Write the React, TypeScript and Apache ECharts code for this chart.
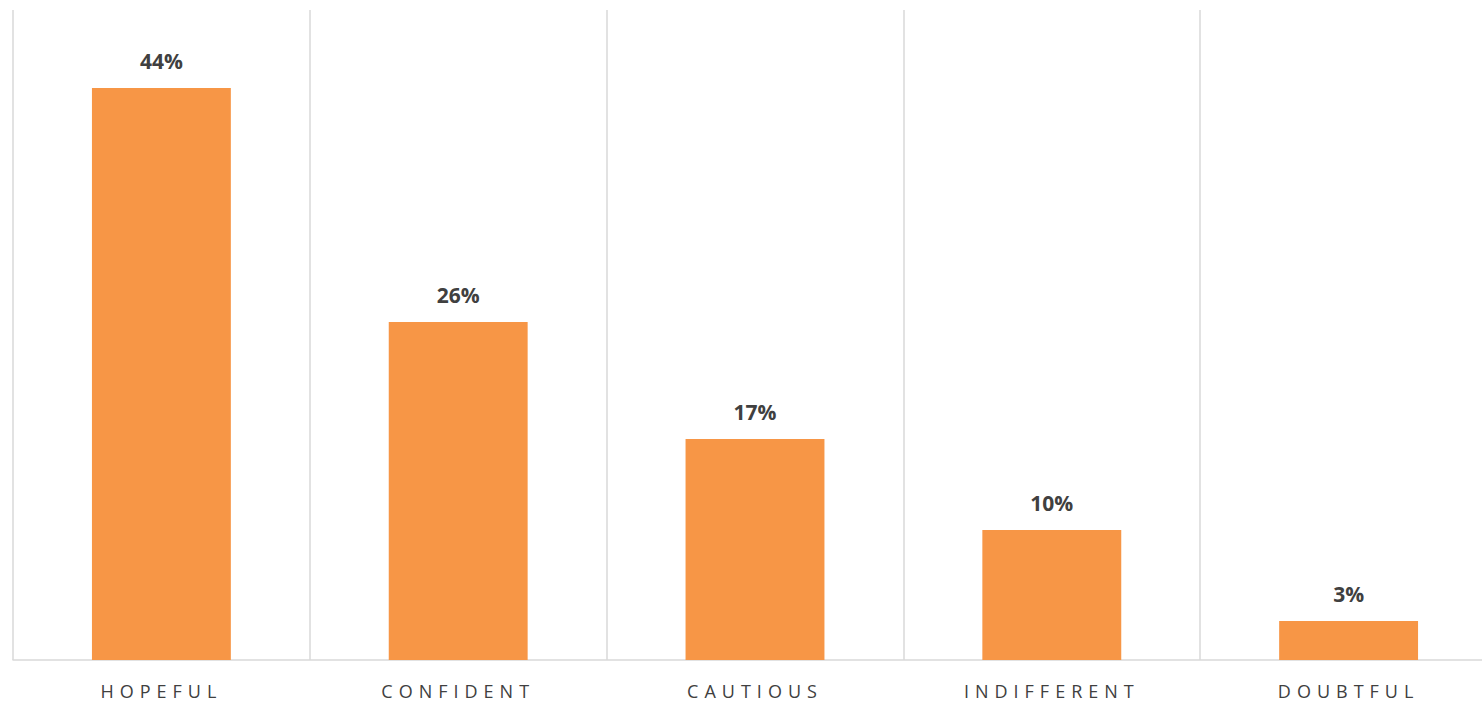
import React, { useEffect, useRef } from "react";
import * as echarts from "echarts";

const categories = ["HOPEFUL", "CONFIDENT", "CAUTIOUS", "INDIFFERENT", "DOUBTFUL"];
const values = [44, 26, 17, 10, 3];

export default function App() {
  const ref = useRef<HTMLDivElement>(null);
  useEffect(() => {
    if (!ref.current) return;
    const chart = echarts.init(ref.current, null, { renderer: "svg" });
    chart.setOption({
      animation: false,
      grid: { left: 13, right: 3, top: 10, bottom: 44, containLabel: false },
      xAxis: {
        type: "category",
        data: categories,
        axisLine: { show: true, lineStyle: { color: "#d9d9d9", width: 1.5 } },
        axisTick: { show: false },
        splitLine: { show: true, lineStyle: { color: "#d9d9d9", width: 1.5 } },
        axisLabel: {
          color: "#404040",
          fontFamily: "Open Sans",
          fontSize: 18,
          margin: 22,
        },
      },
      yAxis: {
        type: "value",
        min: 0,
        max: 50,
        show: false,
        splitLine: { show: false },
      },
      series: [
        {
          type: "bar",
          data: values,
          barWidth: "46.8%",
          itemStyle: { color: "#F79646" },
          label: {
            show: true,
            position: "top",
            distance: 17,
            formatter: "{c}%",
            color: "#404040",
            fontFamily: "Open Sans",
            fontWeight: "bold",
            fontSize: 21,
          },
        },
      ],
    });
    const el = ref.current;
    el.querySelectorAll("text").forEach((t) => {
      if (categories.includes((t.textContent || "").trim())) {
        (t as SVGTextElement).style.letterSpacing = "6px";
      }
    });
    return () => chart.dispose();
  }, []);
  return (
    <div style={{ position: "absolute", left: 0, top: 0, width: 1482, height: 704, overflow: "hidden" }}>
      <div ref={ref} style={{ width: 1500, height: 704 }} />
    </div>
  );
}
